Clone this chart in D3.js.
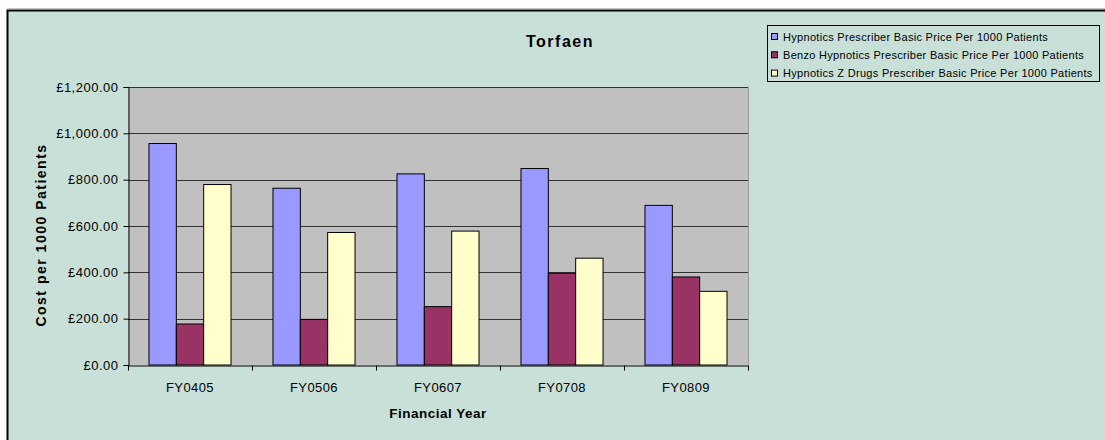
<!DOCTYPE html>
<html><head><meta charset="utf-8">
<script src="https://cdn.jsdelivr.net/npm/d3@7"></script>
<style>
html,body{margin:0;padding:0;background:#fff;}
svg{display:block;}
text{font-family:"Liberation Sans",Arial,sans-serif;fill:#000;}
</style></head>
<body><svg id="c" width="1105" height="440"></svg>
<script>
const categories = ["FY0405","FY0506","FY0607","FY0708","FY0809"];
const seriesNames = [
  "Hypnotics Prescriber Basic Price Per 1000 Patients",
  "Benzo Hypnotics Prescriber Basic Price Per 1000 Patients",
  "Hypnotics Z Drugs Prescriber Basic Price Per 1000 Patients"
];
const hypnotics = [956, 763, 825, 848, 689];
const benzo = [177, 197, 252, 396, 380];
const zdrugs = [779, 572, 578, 461, 318];
const yTicks = [0, 200, 400, 600, 800, 1000, 1200];
const colors = ["#9999FF", "#993366", "#FFFFCC"];

(function(){
const series = [hypnotics, benzo, zdrugs];
const svg = d3.select("#c");

// outer chart area
svg.append("rect").attr("x",7.5).attr("y",10.5).attr("width",1105).attr("height",440)
  .attr("fill","#C8E0D8").attr("stroke","#000").attr("stroke-width",2);
svg.append("line").attr("x1",7).attr("x2",1105).attr("y1",9).attr("y2",9).attr("stroke","#888").attr("stroke-width",1);

const pL = 128, pR = 748, pT = 87, pB = 365;
const x = d3.scaleBand().domain(categories).range([pL, pR]).paddingInner(0).paddingOuter(0);
const y = d3.scaleLinear().domain([0, 1200]).range([pB, pT]);

// plot area
svg.append("rect").attr("x",pL).attr("y",pT).attr("width",pR-pL).attr("height",pB-pT)
  .attr("fill","#C0C0C0");
svg.append("line").attr("x1",pR+0.5).attr("x2",pR+0.5).attr("y1",pT).attr("y2",pB)
  .attr("stroke","#9a9a9a");

// gridlines
svg.append("g").selectAll("line").data(yTicks.filter(d=>d>0)).join("line")
  .attr("x1",pL).attr("x2",pR)
  .attr("y1",d=>Math.round(y(d))+0.5).attr("y2",d=>Math.round(y(d))+0.5)
  .attr("stroke","#333").attr("stroke-width",1);

// bars
const bw = (x.bandwidth()*0.6615)/3;
const offset = (x.bandwidth() - bw*3)/2;
categories.forEach((c,i)=>{
  series.forEach((s,j)=>{
    svg.append("rect")
      .attr("x", x(c) + offset + j*bw)
      .attr("y", y(s[i]))
      .attr("width", bw)
      .attr("height", pB - y(s[i]))
      .attr("fill", colors[j])
      .attr("stroke","#000").attr("stroke-width",1);
  });
});

// y axis
const yAxis = d3.axisLeft(y).tickValues(yTicks).tickSize(5).tickPadding(5)
  .tickFormat(d => "£" + d3.format(",.2f")(d));
const ya = svg.append("g").attr("transform",`translate(${pL+0.5},0)`).call(yAxis);
ya.select(".domain").attr("stroke","#000");
ya.selectAll(".tick line").attr("stroke","#000");
ya.selectAll("text").style("font-size","13px").style("letter-spacing","0.5px")
  .style("font-family","Liberation Sans, Arial, sans-serif").attr("fill","#000");

// x axis
const xAxis = d3.axisBottom(x).tickSize(0).tickPadding(17);
const xa = svg.append("g").attr("transform",`translate(0,${pB+0.5})`).call(xAxis);
xa.select(".domain").attr("stroke","#000");
xa.selectAll("text").style("font-size","13px").style("letter-spacing","0.4px")
  .style("font-family","Liberation Sans, Arial, sans-serif").attr("fill","#000");
const bounds = categories.map(c=>x(c)).concat([pR]);
xa.selectAll(".sep").data(bounds).join("line").attr("class","sep")
  .attr("x1",d=>Math.round(d)+0.5).attr("x2",d=>Math.round(d)+0.5).attr("y1",0).attr("y2",5).attr("stroke","#000");

// titles
svg.append("text").attr("x",560).attr("y",47).attr("text-anchor","middle")
  .style("font-size","16px").style("font-weight","bold").style("letter-spacing","1.5px").text("Torfaen");
svg.append("text").attr("transform","translate(46,235) rotate(-90)").attr("text-anchor","middle")
  .style("font-size","14px").style("font-weight","bold").style("letter-spacing","1.5px").text("Cost per 1000 Patients");
svg.append("text").attr("x",438).attr("y",418).attr("text-anchor","middle")
  .style("font-size","13.5px").style("font-weight","bold").style("letter-spacing","0.5px").text("Financial Year");

// legend
const lg = svg.append("g");
lg.append("rect").attr("x",767.5).attr("y",25.5).attr("width",332).attr("height",56)
  .attr("fill","#C8E0D8").attr("stroke","#000");
seriesNames.forEach((n,i)=>{
  const cy = 37 + i*18.3;
  lg.append("rect").attr("x",771.5).attr("y",cy-3.5).attr("width",6).attr("height",6)
    .attr("fill",colors[i]).attr("stroke","#000");
  lg.append("text").attr("x",783).attr("y",cy).attr("dy","0.35em")
    .style("font-size","11px").style("letter-spacing","0.3px").text(n);
});
})();
</script></body></html>
